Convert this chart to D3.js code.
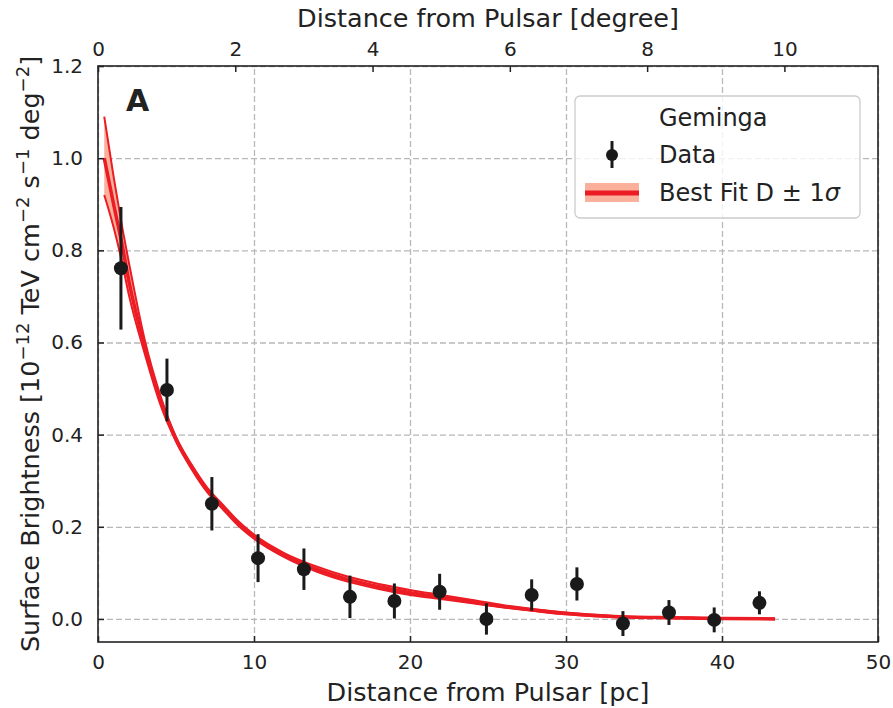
<!DOCTYPE html>
<html>
<head>
<meta charset="utf-8">
<script src="https://cdn.jsdelivr.net/npm/d3@7"></script>
<style>
  body { margin: 0; background: #fff; }
  svg text { font-family: "DejaVu Sans", sans-serif; fill: #222; }
</style>
</head>
<body>
<div id="chart"></div>
<script>
// Geminga surface brightness profile

// data points (distance in pc, brightness, 1 sigma error)
const dataX = [1.47, 4.42, 7.3, 10.26, 13.2, 16.15, 19.0, 21.9, 24.9, 27.8, 30.7, 33.65, 36.6, 39.5, 42.4];
const dataY = [0.761, 0.497, 0.250, 0.132, 0.108, 0.048, 0.039, 0.059, 0.000, 0.052, 0.076, -0.010, 0.014, -0.002, 0.035];
const dataErr = [0.133, 0.068, 0.058, 0.052, 0.045, 0.046, 0.038, 0.039, 0.034, 0.034, 0.036, 0.027, 0.027, 0.027, 0.025];

// best fit curve and the +-1 sigma envelope
const fitX = [0.4, 1, 1.5, 2, 3, 4, 5, 6, 7, 8, 9, 10, 12, 14, 16, 18, 20, 22, 24, 26, 28, 30, 32, 34, 36, 38, 40, 43.4];
const fitBest = [1.00, 0.90, 0.82, 0.73, 0.59, 0.475, 0.39, 0.33, 0.28, 0.243, 0.207, 0.178, 0.137, 0.108, 0.086, 0.070, 0.057, 0.047, 0.037, 0.027, 0.019, 0.012, 0.007, 0.004, 0.003, 0.002, 0.001, 0.0];
const fitHi = [1.09, 0.96, 0.86, 0.77, 0.605, 0.485, 0.395, 0.335, 0.285, 0.248, 0.212, 0.183, 0.142, 0.114, 0.092, 0.076, 0.063, 0.052, 0.041, 0.030, 0.021, 0.014, 0.009, 0.005, 0.004, 0.003, 0.002, 0.001];
const fitLo = [0.92, 0.85, 0.78, 0.70, 0.575, 0.465, 0.385, 0.325, 0.275, 0.238, 0.202, 0.174, 0.133, 0.103, 0.081, 0.065, 0.052, 0.043, 0.034, 0.025, 0.017, 0.010, 0.006, 0.003, 0.002, 0.001, 0.0, 0.0];

const xTicks = [0, 10, 20, 30, 40, 50];
const degTicks = [0, 2, 4, 6, 8, 10];
const yTicks = [0.0, 0.2, 0.4, 0.6, 0.8, 1.0, 1.2];
const pcPerDegree = 4.4;

const width = 893, height = 708;
const margin = {top: 66, right: 15, bottom: 66, left: 98};
const w = width - margin.left - margin.right;
const h = height - margin.top - margin.bottom;

const red = "#ec1c24";
const salmon = "#fbb09c";

const svg = d3.select("#chart").append("svg")
  .attr("width", width)
  .attr("height", height);

const g = svg.append("g").attr("transform", `translate(${margin.left},${margin.top})`);

const x = d3.scaleLinear().domain([0, 50]).range([0, w]);
const xDeg = d3.scaleLinear().domain([0, 50 / pcPerDegree]).range([0, w]);
const y = d3.scaleLinear().domain([-0.05, 1.2]).range([h, 0]);

// grid
const grid = g.append("g").attr("class", "grid");
grid.append("g")
  .attr("transform", `translate(0,${h})`)
  .call(d3.axisBottom(x).tickValues(xTicks).tickSize(-h).tickFormat(""));
grid.append("g")
  .call(d3.axisLeft(y).tickValues(yTicks).tickSize(-w).tickFormat(""));
grid.selectAll(".domain").remove();
grid.selectAll("line")
  .attr("stroke", "#b8b8b8")
  .attr("stroke-width", 1.3)
  .attr("stroke-dasharray", "6,3");

// fit band
const area = d3.area()
  .x((d, i) => x(fitX[i]))
  .y0((d, i) => y(fitLo[i]))
  .y1((d, i) => y(fitHi[i]))
  .curve(d3.curveMonotoneX);
g.append("path")
  .datum(fitX)
  .attr("d", area)
  .attr("fill", salmon);

const fitLine = arr => d3.line()
  .x((d, i) => x(fitX[i]))
  .y((d, i) => y(arr[i]))
  .curve(d3.curveMonotoneX)(fitX);

[fitHi, fitLo].forEach(arr => {
  g.append("path")
    .attr("d", fitLine(arr))
    .attr("fill", "none")
    .attr("stroke", red)
    .attr("stroke-width", 2);
});
g.append("path")
  .attr("d", fitLine(fitBest))
  .attr("fill", "none")
  .attr("stroke", red)
  .attr("stroke-width", 3.5);

// data with error bars
const pts = g.append("g");
pts.selectAll("line")
  .data(dataX)
  .join("line")
  .attr("x1", d => x(d))
  .attr("x2", d => x(d))
  .attr("y1", (d, i) => y(dataY[i] - dataErr[i]))
  .attr("y2", (d, i) => y(dataY[i] + dataErr[i]))
  .attr("stroke", "#1a1a1a")
  .attr("stroke-width", 3);
pts.selectAll("circle")
  .data(dataX)
  .join("circle")
  .attr("cx", d => x(d))
  .attr("cy", (d, i) => y(dataY[i]))
  .attr("r", 7)
  .attr("fill", "#1a1a1a");

// axes, ticks pointing in
const axisStyle = sel => {
  sel.selectAll(".domain").remove();
  sel.selectAll("line").attr("stroke", "#222").attr("stroke-width", 1.5);
  sel.selectAll("text").attr("font-size", 20).attr("fill", "#222")
    .attr("font-family", "DejaVu Sans");
};

g.append("g")
  .attr("transform", `translate(0,${h})`)
  .call(d3.axisBottom(x).tickValues(xTicks).tickSize(-6).tickPadding(13).tickFormat(d3.format("d")))
  .call(axisStyle);

g.append("g")
  .call(d3.axisTop(xDeg).tickValues(degTicks).tickSize(-6).tickPadding(10).tickFormat(d3.format("d")))
  .call(axisStyle);

g.append("g")
  .call(d3.axisLeft(y).tickValues(yTicks).tickSize(-6).tickPadding(15).tickFormat(d3.format(".1f")))
  .call(axisStyle);

// frame
g.append("rect")
  .attr("width", w)
  .attr("height", h)
  .attr("fill", "none")
  .attr("stroke", "#222")
  .attr("stroke-width", 1.6);

// axis titles
svg.append("text")
  .attr("x", margin.left + w / 2)
  .attr("y", 701)
  .attr("text-anchor", "middle")
  .attr("font-size", 25.5)
  .text("Distance from Pulsar [pc]");

svg.append("text")
  .attr("x", margin.left + w / 2)
  .attr("y", 27)
  .attr("text-anchor", "middle")
  .attr("font-size", 25.5)
  .text("Distance from Pulsar [degree]");

const yLab = svg.append("text")
  .attr("transform", `translate(39,${margin.top + h / 2}) rotate(-90)`)
  .attr("text-anchor", "middle")
  .attr("font-size", 25.5);
const parts = [["Surface Brightness [10", false], ["\u221212", true], [" TeV cm", false], ["\u22122", true],
  [" s", false], ["\u22121", true], [" deg", false], ["\u22122", true], ["]", false]];
let up = false;
parts.forEach(([t, sup]) => {
  const ts = yLab.append("tspan").text(t);
  if (sup && !up) { ts.attr("dy", -10).attr("font-size", 18); up = true; }
  else if (sup) { ts.attr("font-size", 18); }
  else if (up) { ts.attr("dy", 10); up = false; }
});

// panel letter
svg.append("text")
  .attr("x", 126)
  .attr("y", 111)
  .attr("font-size", 30)
  .attr("font-weight", "bold")
  .attr("fill", "#222")
  .text("A");

// legend
const lg = svg.append("g").attr("transform", "translate(575,96)");
lg.append("rect")
  .attr("width", 285)
  .attr("height", 122)
  .attr("rx", 5)
  .attr("fill", "white")
  .attr("fill-opacity", 0.8)
  .attr("stroke", "#cccccc")
  .attr("stroke-width", 1.3);
lg.append("text").attr("x", 84).attr("y", 30).attr("font-size", 24).text("Geminga");
lg.append("line")
  .attr("x1", 37).attr("x2", 37).attr("y1", 45).attr("y2", 72)
  .attr("stroke", "#1a1a1a").attr("stroke-width", 3);
lg.append("circle").attr("cx", 37).attr("cy", 59).attr("r", 6).attr("fill", "#1a1a1a");
lg.append("text").attr("x", 84).attr("y", 67).attr("font-size", 24).text("Data");
lg.append("rect").attr("x", 10).attr("y", 87).attr("width", 54).attr("height", 19).attr("fill", salmon);
lg.append("line")
  .attr("x1", 10).attr("x2", 64).attr("y1", 97).attr("y2", 97)
  .attr("stroke", red).attr("stroke-width", 5);
const bf = lg.append("text").attr("x", 84).attr("y", 105).attr("font-size", 24);
bf.append("tspan").text("Best Fit D \u00b1 1");
bf.append("tspan").attr("font-style", "italic").text("\u03c3");
</script>
</body>
</html>
